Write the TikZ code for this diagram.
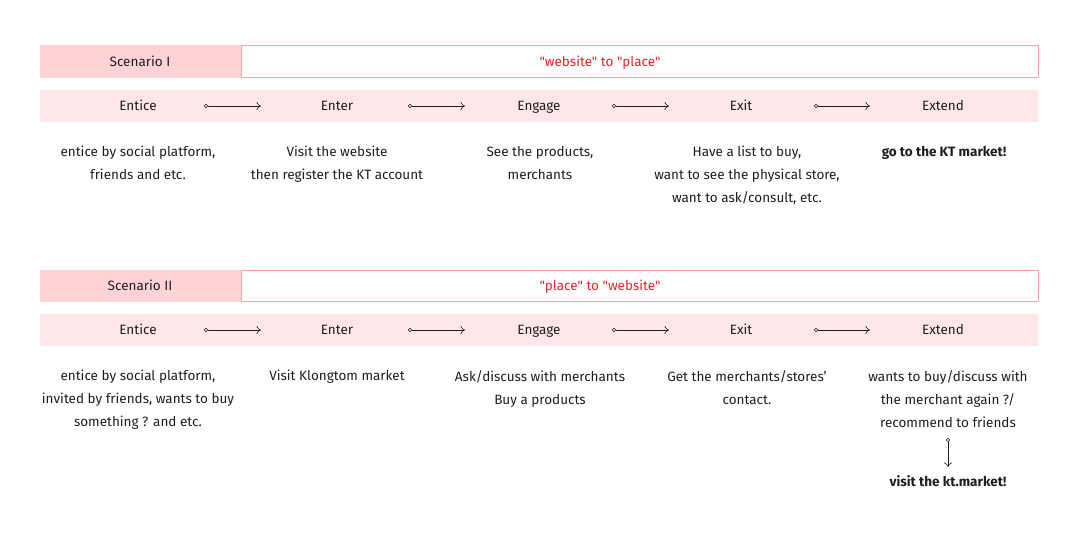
\documentclass[tikz,border=0pt]{standalone}
\usepackage{fontspec}
\setmainfont{Fira Sans}[Ligatures=TeXOff]
\usepackage{xcolor}
\usetikzlibrary{calc,arrows.meta,positioning}

\definecolor{headpink}{HTML}{FFD3D6}
\definecolor{bandpink}{HTML}{FFE7E9}
\definecolor{linepink}{HTML}{F5A3A3}
\definecolor{quotered}{HTML}{E3262A}
\definecolor{textgray}{HTML}{1E1E1E}

\begin{document}
\begin{tikzpicture}[x=1pt, y=-1pt,
  txt/.style={font=\fontsize{13.5}{23}\selectfont, text=textgray, align=center, inner sep=0pt},
  stage/.style={txt, anchor=base},
  desc/.style={txt, anchor=north},
  arr/.style={{Circle[open, length=4pt, width=4pt]}-{To[length=4.5pt, width=8pt]}, semithick, textgray}
]
\useasboundingbox (0,0) rectangle (1080,539);
% --- Scenario I ---
\fill[headpink] (40,45) rectangle (241,78);
\draw[linepink] (241,45.5) rectangle (1038,77.5);
\node[stage] (s1) at (140,66.5) {Scenario I};
\node[stage, text=quotered] (q1) at (600,66.5) {"website" to "place"};
\fill[bandpink] (40,90) rectangle (1038,122);
\node[stage] (a1) at (138,110.5) {Entice};
\node[stage] (b1) at (337,110.5) {Enter};
\node[stage] (c1) at (539,110.5) {Engage};
\node[stage] (d1) at (741,110.5) {Exit};
\node[stage] (e1) at (943,110.5) {Extend};
\coordinate (ab1s) at (204,106); \coordinate (ab1e) at (261,106);
\coordinate (bc1s) at (408,106); \coordinate (bc1e) at (465,106);
\coordinate (cd1s) at (612,106); \coordinate (cd1e) at (669,106);
\coordinate (de1s) at (814,106); \coordinate (de1e) at (870,106);
\foreach \p in {ab1,bc1,cd1,de1}
  \draw[arr] (\p s) -- (\p e);
\node[desc] (ta1) at (138,146) {entice by social platform,\\friends and etc.};
\node[desc] (tb1) at (337,146) {Visit the website\\then register the KT account};
\node[desc] (tc1) at (540,146) {See the products,\\merchants};
\node[desc] (td1) at (747,146) {Have a list to buy,\\want to see the physical store,\\want to ask/consult, etc.};
\node[desc, font=\fontsize{13.5}{23}\selectfont\bfseries] (te1) at (944,146) {go to the KT market!};
% --- Scenario II ---
\fill[headpink] (40,270) rectangle (241,302);
\draw[linepink] (241,270.5) rectangle (1038,301.5);
\node[stage] (s2) at (140,290.5) {Scenario II};
\node[stage, text=quotered] (q2) at (600,290.5) {"place" to "website"};
\fill[bandpink] (40,314) rectangle (1038,346);
\node[stage] (a2) at (138,334.5) {Entice};
\node[stage] (b2) at (337,334.5) {Enter};
\node[stage] (c2) at (539,334.5) {Engage};
\node[stage] (d2) at (741,334.5) {Exit};
\node[stage] (e2) at (943,334.5) {Extend};
\coordinate (ab2s) at (204,330); \coordinate (ab2e) at (261,330);
\coordinate (bc2s) at (408,330); \coordinate (bc2e) at (465,330);
\coordinate (cd2s) at (612,330); \coordinate (cd2e) at (669,330);
\coordinate (de2s) at (814,330); \coordinate (de2e) at (870,330);
\foreach \p in {ab2,bc2,cd2,de2}
  \draw[arr] (\p s) -- (\p e);
\node[desc] (ta2) at (138,370) {entice by social platform,\\invited by friends, wants to buy\\something ? and etc.};
\node[desc] (tb2) at (337,370) {Visit Klongtom market};
\node[desc] (tc2) at (540,370) {Ask/discuss with merchants\\Buy a products};
\node[desc] (td2) at (747,370) {Get the merchants/stores’\\contact.};
\node[desc] (te2) at (948,370) {wants to buy/discuss with\\the merchant again ?/\\recommend to friends};
\node[stage, font=\fontsize{13.5}{23}\selectfont\bfseries] (f2) at (948,486) {visit the kt.market!};
\coordinate (fs) at (948,438);
\draw[arr] (fs) -- (f2.north |- 0,467);
\end{tikzpicture}
\end{document}
